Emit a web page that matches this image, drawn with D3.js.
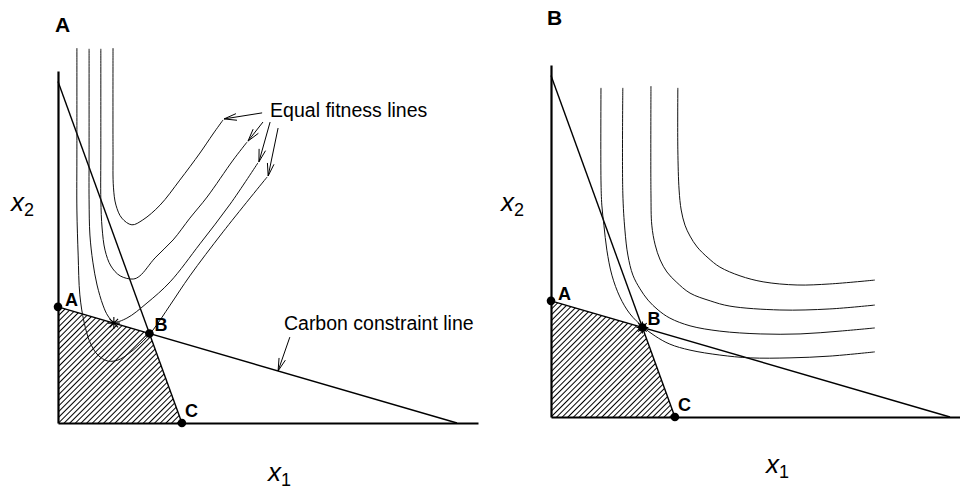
<!DOCTYPE html>
<html>
<head>
<meta charset="utf-8">
<script src="https://cdn.jsdelivr.net/npm/d3@7"></script>
<style>
  body { margin: 0; background: #fff; }
  svg { display: block; font-family: "Liberation Sans", Arial, Helvetica, sans-serif; }
</style>
</head>
<body>
<svg id="chart" width="960" height="492"></svg>
<script>
// both axes run 0..100 (arbitrary units)
// constraint lines as [x1 intercept, x2 intercept]
const carbonLine = [95, 33];
const steepLine = [29.5, 97];
const cornerLabels = ["A", "B", "C"];

// equal fitness lines, panel A (outer to inner)
const fitA1 = [[13.1,106.5],[13.1,77.6],[13.2,67.0],[13.8,61.9],[15.2,58.2],[17.6,56.3],[20.2,57.7],[24.3,61.9],[29.0,69.0],[33.8,76.7],[36.9,82.1],[39.3,86.1]];
const fitA2 = [[10.2,106.3],[10.2,77.6],[10.2,63.4],[10.5,55.4],[11.2,49.1],[12.6,44.6],[14.8,41.8],[17.9,40.9],[19.5,41.8],[23.1,46.9],[27.4,52.0],[31.4,58.2],[35.5,64.2],[41.7,74.7],[45.0,79.8]];
const fitA3 = [[7.4,106.3],[7.4,77.6],[7.4,63.4],[7.6,53.4],[8.3,45.7],[9.3,39.2],[10.7,33.5],[11.9,30.4],[13.3,28.7],[16.4,29.8],[21.2,34.1],[26.7,40.1],[33.8,50.9],[41.0,62.2],[47.6,73.9]];
const fitA4 = [[4.5,106.5],[4.5,77.6],[4.5,60.5],[4.8,47.7],[5.2,36.4],[6.2,28.7],[7.6,23.0],[9.5,19.3],[11.9,17.6],[14.3,17.9],[16.7,19.6],[19.5,22.4],[22.6,26.4],[26.7,33.5],[31.4,41.8],[39.3,54.3],[49.8,69.9]];

// equal fitness lines, panel B (outer to inner)
const fitB1 = [[30.2,93.5],[30.2,75.9],[30.5,64.5],[31.0,58.8],[31.9,54.5],[33.1,51.4],[34.8,48.3],[37.4,45.2],[40.2,42.6],[45.0,40.1],[50.5,38.4],[58.6,37.5],[66.4,37.8],[77.1,38.9]];
const fitB2 = [[23.8,94.0],[23.8,63.6],[24.0,54.5],[24.8,48.9],[26.0,44.6],[27.6,41.2],[29.8,38.4],[33.1,35.2],[37.9,33.0],[42.6,31.5],[54.5,30.4],[66.4,30.7],[77.1,31.8]];
const fitB3 = [[17.1,93.5],[17.1,63.6],[17.6,53.1],[18.3,46.0],[19.5,40.3],[21.2,36.4],[23.1,33.2],[25.5,30.4],[28.3,28.1],[33.1,25.9],[40.2,24.4],[49.8,23.6],[59.3,23.6],[68.8,24.4],[77.1,25.3]];
const fitB4 = [[11.9,93.5],[11.9,67.3],[12.1,60.2],[12.6,54.5],[13.3,47.4],[14.5,40.3],[16.4,34.1],[18.8,29.3],[21.9,25.6],[24.8,23.0],[28.3,20.7],[33.1,19.0],[40.2,17.6],[47.4,16.8],[56.9,16.8],[66.4,17.3],[77.1,18.5]];

// arrow tails next to the "Equal fitness lines" note (panel A)
const fitArrowTails = [[48.6,88.1],[48.8,85.5],[50.5,85.5],[52.4,83.8]];
// carbon note arrow: tail, x1 of the tip on the carbon line
const carbonArrowTail = [55.2, 24.4];
const carbonArrowTipX = 52.4;
// tangency star on the carbon line, panel A (x1)
const starAx = 13.3;

const W = 420, H = 352;

const svg = d3.select("#chart");

const defs = svg.append("defs");
defs.append("pattern")
    .attr("id", "hatch")
    .attr("patternUnits", "userSpaceOnUse")
    .attr("width", 4.0)
    .attr("height", 10)
    .attr("patternTransform", "rotate(45)")
    .append("line")
    .attr("x1", 0.5).attr("y1", 0)
    .attr("x2", 0.5).attr("y2", 10)
    .attr("stroke", "#000")
    .attr("stroke-width", 1);

const carbonAt = u => carbonLine[1] * (1 - u / carbonLine[0]);
const steepAt = u => steepLine[1] * (1 - u / steepLine[0]);
// corner B = where the two constraint lines meet
const bx = (steepLine[1] - carbonLine[1]) / (steepLine[1] / steepLine[0] - carbonLine[1] / carbonLine[0]);
const corners = [[0, carbonLine[1]], [bx, carbonAt(bx)], [steepLine[0], 0]];
const labelOffsets = [[7, -1], [5, -2], [3, -6]];

const panels = [
    { title: "A", ox: 58, oy: 423, tx: 55, ty: 32,
      curves: [fitA1, fitA2, fitA3, fitA4], star: [starAx, carbonAt(starAx)],
      x1: [268, 481], x2: [11, 211], notes: true },
    { title: "B", ox: 551, oy: 417, tx: 547, ty: 25,
      curves: [fitB1, fitB2, fitB3, fitB4], star: corners[1],
      x1: [766, 473], x2: [501, 211], notes: false }
];

function arrow(g, p0, p1) {
    const ang = Math.atan2(p1[1] - p0[1], p1[0] - p0[0]);
    const L = 13, a = 0.26;
    const h1 = [p1[0] - L * Math.cos(ang - a), p1[1] - L * Math.sin(ang - a)];
    const h2 = [p1[0] - L * Math.cos(ang + a), p1[1] - L * Math.sin(ang + a)];
    g.append("path")
        .attr("d", `M${p0}L${p1}M${h1}L${p1}L${h2}`)
        .attr("fill", "none")
        .attr("stroke", "#000")
        .attr("stroke-width", 1);
}

panels.forEach(p => {
    const x = d3.scaleLinear().domain([0, 100]).range([p.ox, p.ox + W]);
    const y = d3.scaleLinear().domain([0, 100]).range([p.oy, p.oy - H]);
    const g = svg.append("g");

    // hatched feasible region
    g.append("path")
        .attr("d", d3.line().x(d => x(d[0])).y(d => y(d[1]))([[0, 0], ...corners, [0, 0]]))
        .attr("fill", "url(#hatch)")
        .attr("stroke", "none");

    // constraint lines
    g.append("line")
        .attr("x1", x(0)).attr("y1", y(carbonLine[1]))
        .attr("x2", x(carbonLine[0])).attr("y2", y(0))
        .attr("stroke", "#000").attr("stroke-width", 1.4);
    g.append("line")
        .attr("x1", x(0)).attr("y1", y(steepLine[1]))
        .attr("x2", x(steepLine[0])).attr("y2", y(0))
        .attr("stroke", "#000").attr("stroke-width", 1.4);

    // equal fitness lines
    const line = d3.line()
        .x(d => x(d[0])).y(d => y(d[1]))
        .curve(d3.curveCatmullRom.alpha(0.5));
    g.selectAll(".fit")
        .data(p.curves)
        .enter()
        .append("path")
        .attr("class", "fit")
        .attr("d", line)
        .attr("fill", "none")
        .attr("stroke", "#111")
        .attr("stroke-width", 1);

    // axes, no ticks
    g.append("g")
        .attr("transform", `translate(0,${p.oy})`)
        .call(d3.axisBottom(x).tickValues([]).tickSizeOuter(0))
        .select(".domain").attr("stroke-width", 2.2);
    g.append("g")
        .attr("transform", `translate(${p.ox},0)`)
        .call(d3.axisLeft(y).tickValues([]).tickSizeOuter(0))
        .select(".domain").attr("stroke-width", 2.2);

    // star
    const s = [x(p.star[0]), y(p.star[1])];
    const r = 6;
    g.append("path")
        .attr("d", d3.range(4).map(i => {
            const a = i * Math.PI / 4;
            return `M${s[0] - r * Math.cos(a)},${s[1] - r * Math.sin(a)}L${s[0] + r * Math.cos(a)},${s[1] + r * Math.sin(a)}`;
        }).join(""))
        .attr("stroke", "#000").attr("stroke-width", 1.1);

    // corner dots and letters
    g.selectAll(".dot")
        .data(corners)
        .enter()
        .append("circle")
        .attr("cx", d => x(d[0]))
        .attr("cy", d => y(d[1]))
        .attr("r", 4.3)
        .attr("fill", "#000");
    g.selectAll(".corner")
        .data(corners)
        .enter()
        .append("text")
        .attr("x", (d, i) => x(d[0]) + labelOffsets[i][0])
        .attr("y", (d, i) => y(d[1]) + labelOffsets[i][1])
        .attr("font-size", 18)
        .attr("font-weight", "bold")
        .text((d, i) => cornerLabels[i]);

    // panel letter
    g.append("text")
        .attr("x", p.tx).attr("y", p.ty)
        .attr("font-size", 21)
        .attr("font-weight", "bold")
        .text(p.title);

    // axis titles
    const x1t = g.append("text").attr("x", p.x1[0]).attr("y", p.x1[1]).attr("font-size", 26);
    x1t.append("tspan").attr("font-style", "italic").text("x");
    x1t.append("tspan").attr("font-size", 18).attr("dy", 5).text("1");
    const x2t = g.append("text").attr("x", p.x2[0]).attr("y", p.x2[1]).attr("font-size", 26);
    x2t.append("tspan").attr("font-style", "italic").text("x");
    x2t.append("tspan").attr("font-size", 18).attr("dy", 5).text("2");

    if (p.notes) {
        g.append("text")
            .attr("x", x(50.5)).attr("y", y(86.9))
            .attr("font-size", 19.5)
            .text("Equal fitness lines");
        p.curves.forEach((c, i) => {
            const end = c[c.length - 1];
            arrow(g, [x(fitArrowTails[i][0]), y(fitArrowTails[i][1])], [x(end[0]) + 1, y(end[1]) - 1]);
        });
        g.append("text")
            .attr("x", x(53.8)).attr("y", y(26.4))
            .attr("font-size", 19.5)
            .text("Carbon constraint line");
        arrow(g, [x(carbonArrowTail[0]), y(carbonArrowTail[1])],
            [x(carbonArrowTipX), y(carbonAt(carbonArrowTipX))]);
    }
});
</script>
</body>
</html>
